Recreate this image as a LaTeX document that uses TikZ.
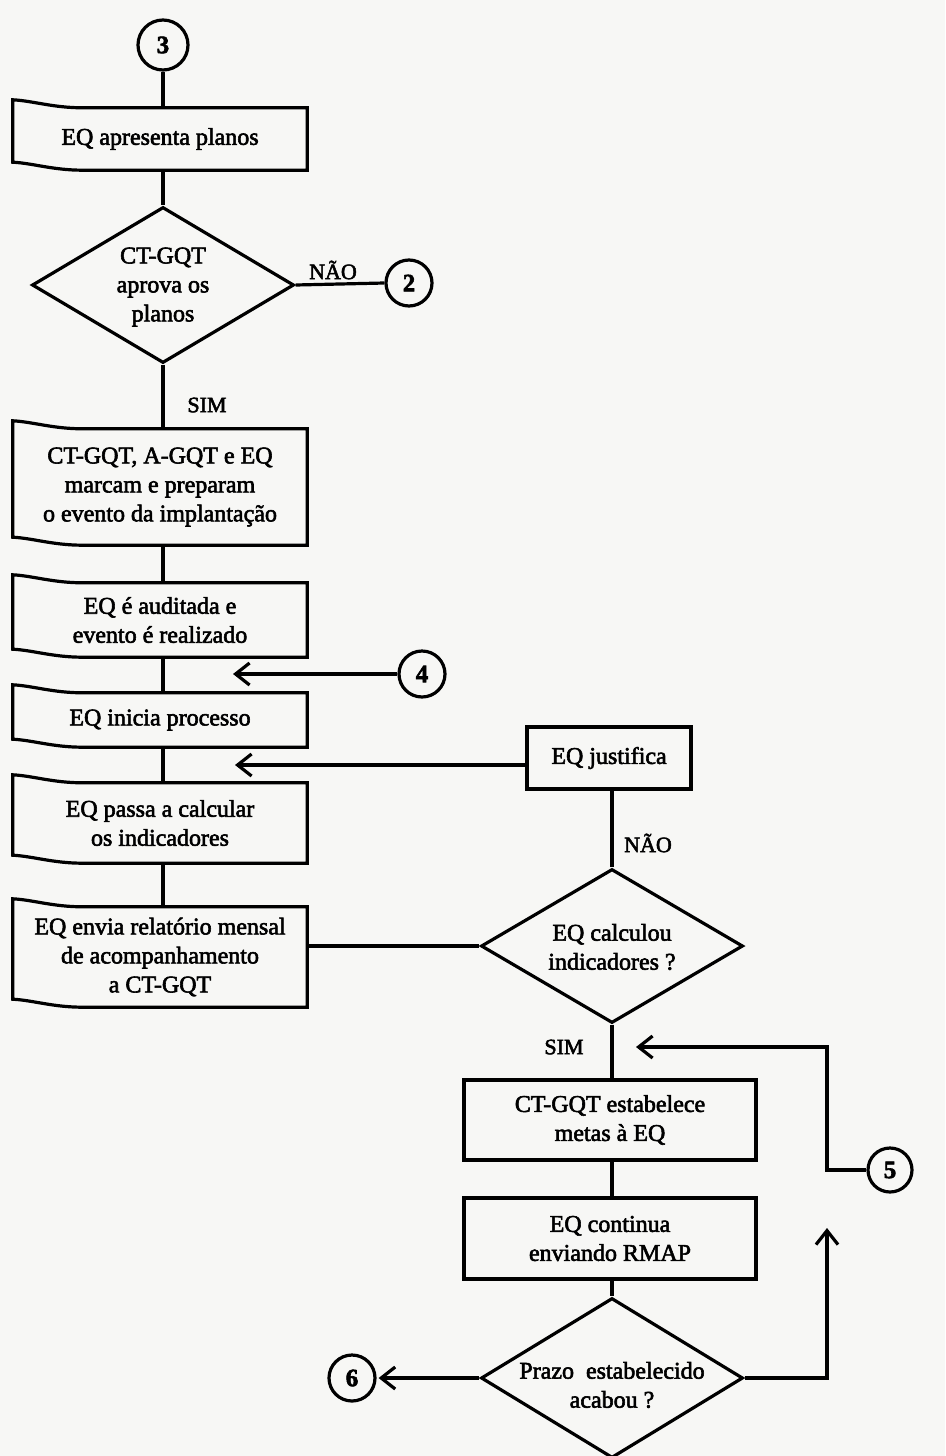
\documentclass[tikz,border=0pt]{standalone}
\usepackage{fontspec}
\setmainfont{Liberation Serif}[FakeBold=2.4]
\usetikzlibrary{shapes.geometric,arrows.meta}
\definecolor{paper}{RGB}{247,247,245}
\begin{document}
\begin{tikzpicture}[x=1pt,y=-1pt,
  every node/.style={font=\fontsize{24}{29}\selectfont},
  proc/.style={rectangle, inner sep=0pt, minimum width=294pt, align=center},
  outl/.style={line width=3.2pt, line join=miter},
  plain/.style={rectangle, draw, line width=3.2pt, inner sep=0pt, align=center},
  decision/.style={diamond, draw, line width=3.2pt, inner sep=0pt,
                   minimum width=262pt, minimum height=156pt},
  dtext/.style={align=center, inner sep=0pt},
  conn/.style={circle, draw, line width=3.2pt, minimum size=46pt, inner sep=0pt,
               font=\fontsize{25}{27}\selectfont\bfseries},
  lbl/.style={font=\fontsize{22}{24}\selectfont, inner sep=0pt},
  link/.style={line width=3.2pt},
  arr/.style={line width=3.2pt, -{Straight Barb[length=14pt, width=22pt]}},
]
\fill[paper] (0,0) rectangle (945,1456);
\useasboundingbox (0,0) rectangle (945,1456);

% ---- left column: processing steps ----
\node[conn, minimum size=50pt] (c3) at (163,45) {3};
\node[proc, minimum height=62pt] (b1) at (160,139) {EQ apresenta planos};
\node[decision] (d1) at (163,285) {};
\node[dtext] (d1t) at (163,287) {CT-GQT\\aprova os\\planos};
\node[conn] (c2) at (409,283) {2};
\node[lbl] (l1) at (333,270) {NÃO};
\node[lbl] (l2) at (207,405) {SIM};
\node[proc, minimum height=116pt] (b2) at (160,487) {CT-GQT, A-GQT e EQ\\marcam e preparam\\o evento da implantação};
\node[proc, minimum height=74pt] (b3) at (160,620) {EQ é auditada e\\evento é realizado};
\node[conn] (c4) at (422,674) {4};
\coordinate (a4) at (233,674);
\node[proc, minimum height=54pt] (b4) at (160,720) {EQ inicia processo};
\node[proc, minimum height=80pt] (b5) at (160,823) {EQ passa a calcular\\os indicadores};
\node[proc, minimum height=100pt] (b6) at (160,957) {EQ envia relatório mensal\\de acompanhamento\\a CT-GQT};

% step outlines with the lifted left edge
\foreach \n in {b1,b2,b3,b4,b5,b6}{
  \draw[outl] ([yshift=8pt]\n.north west)
      .. controls ([xshift=20pt,yshift=7pt]\n.north west) and ([xshift=40pt]\n.north west) .. ([xshift=70pt]\n.north west)
      -- (\n.north east) -- (\n.south east)
      -- ([xshift=70pt]\n.south west)
      .. controls ([xshift=40pt]\n.south west) and ([xshift=20pt,yshift=7pt]\n.south west) .. ([yshift=8pt]\n.south west)
      -- cycle;
}

% ---- right column ----
\node[plain, minimum width=164pt, minimum height=62pt] (j) at (609,758) {EQ justifica};
\coordinate (aj) at (235,765);
\node[decision, minimum height=154pt] (d2) at (612,946) {};
\node[dtext] (d2t) at (612,947) {EQ calculou\\indicadores ?};
\node[lbl] (l3) at (648,843) {NÃO};
\node[lbl] (l4) at (564,1047) {SIM};
\node[plain, minimum width=292pt, minimum height=80pt] (s1) at (610,1120) {CT-GQT estabelece\\metas à EQ};
\node[plain, minimum width=292pt, minimum height=81pt] (s2) at (610,1238.5) {EQ continua\\enviando RMAP};
\node[decision, minimum height=160pt] (d3) at (612,1378) {};
\node[dtext] (d3t) at (612,1385) {Prazo\ \ estabelecido\\acabou ?};
\node[conn, minimum size=44pt] (c5) at (890,1170) {5};
\coordinate (k1) at (827,1047);
\coordinate (k2) at (827,1170);
\coordinate (aS) at (636,1047);
\coordinate (aU) at (827,1228);
\node[conn] (c6) at (352,1378) {6};

% ---- connectors ----
\draw[link] (c3.south) -- (c3.south |- b1.north);
\draw[link] (d1.north |- b1.south) -- (d1.north);
\draw[link] (d1.east) -- (c2.west);
\draw[link] (d1.south) -- (d1.south |- b2.north);
\draw[link] (d1.south |- b2.south) -- (d1.south |- b3.north);
\draw[link] (d1.south |- b3.south) -- (d1.south |- b4.north);
\draw[link] (d1.south |- b4.south) -- (d1.south |- b5.north);
\draw[link] (d1.south |- b5.south) -- (d1.south |- b6.north);
\draw[arr] (c4.west) -- (a4);
\draw[arr] (aj -| j.west) -- (aj);
\draw[link] (b6.east |- d2.west) -- (d2.west);
\draw[link] (d2.north) -- (d2.north |- j.south);
\draw[link] (d2.south) -- (d2.south |- s1.north);
\draw[arr] (c5.west) -- (k2) -- (k1) -- (aS);
\draw[link] (d2.south |- s1.south) -- (d2.south |- s2.north);
\draw[link] (d2.south |- s2.south) -- (d3.north);
\draw[arr] (d3.east) -| (aU);
\draw[arr, shorten >=2pt] (d3.west) -- (c6.east);
\end{tikzpicture}
\end{document}
